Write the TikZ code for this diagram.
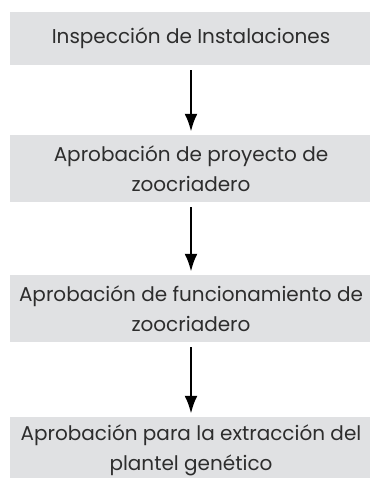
\documentclass[tikz,border=0pt]{standalone}
\usepackage{fontspec}
\setmainfont{Poppins}
\usetikzlibrary{positioning,arrows.meta}
\definecolor{cajagris}{RGB}{224,225,227}
\definecolor{textogris}{RGB}{45,45,45}
\tikzset{
  paso/.style   = {rectangle, fill=cajagris, minimum width=362pt, minimum height=67pt, inner sep=0pt, align=center, text=textogris, font=\fontsize{20}{30.5}\selectfont},
  flecha/.style = {line width=2.8pt, shorten <=5pt, shorten >=3pt, -{Latex[length=18pt,width=13pt]}}
}

\begin{document}
\begin{tikzpicture}[x=1pt,y=-1pt]
  \useasboundingbox (0,0) rectangle (369,478);
  \node[paso, minimum height=53pt] (insp) at (191,38.5) {Inspección de Instalaciones};
  \node[paso] (proy) at (191,168.5) {Aprobación de proyecto de\\zoocriadero};
  \node[paso] (func) at (191,308.5) {Aprobación de funcionamiento de\\zoocriadero};
  \node[paso] (extr) at (191,450.5) {Aprobación para la extracción del\\plantel genético};
  \draw[flecha] (insp.south) -- (proy.north);
  \draw[flecha] (proy.south) -- (func.north);
  \draw[flecha] (func.south) -- (extr.north);
\end{tikzpicture}
\end{document}
